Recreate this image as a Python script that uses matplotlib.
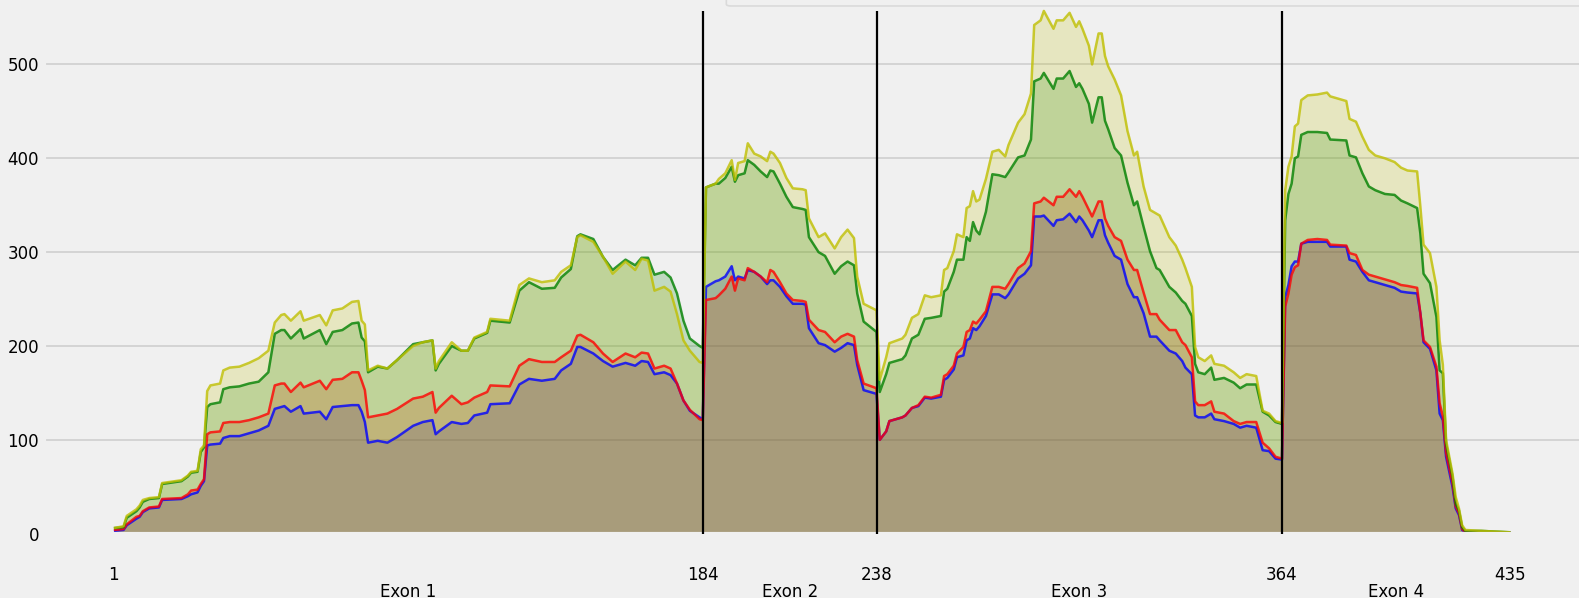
import matplotlib
matplotlib.use('Agg')
import matplotlib.pyplot as plt
from matplotlib.patches import FancyBboxPatch

# position, then one value list per sample
positions = [1, 4, 5, 8, 9, 10, 12, 15, 16, 22, 24, 25, 27, 28, 29, 30, 31, 34, 35, 37,
             40, 43, 46, 49, 51, 53, 54, 56, 59, 60, 65, 67, 69, 72, 75, 77, 78, 79, 80, 83,
             86, 89, 94, 97, 100, 101, 102, 106, 109, 111, 113, 117, 118, 124, 127, 130, 134, 138, 140, 143,
             145, 146, 150, 153, 156, 160, 163, 165, 167, 169, 172, 174, 176, 178, 180, 183, 184,
             185, 188, 189, 191, 193, 194, 195, 197, 198, 200, 202, 204, 205, 206, 208, 210, 212, 215,
             216, 217, 220, 222, 225, 227, 229, 231, 232, 234, 238,
             239, 241, 242, 246, 247, 249, 251, 253, 255, 258, 259, 260, 262, 263, 265, 266, 267, 268, 269,
             270, 272, 274, 276, 278, 279, 282, 284, 286, 287, 289, 290, 293, 294, 296, 298, 300, 301, 302,
             304, 305, 307, 308, 309, 310, 312, 314, 316, 318, 319, 321, 323, 325, 326, 329, 331, 333, 334,
             336, 337, 338, 340, 342, 343, 346, 349, 351, 353, 356, 358, 360, 362, 364,
             365, 366, 367, 368, 369, 370, 372, 375, 378, 379, 384, 385, 387, 389, 391, 393, 396, 399, 401,
             403, 406, 407, 408, 410, 412, 413, 414, 415, 417, 418, 419, 420, 421, 426, 435]

sample_y = [6, 8, 19, 26, 30, 36, 38, 39, 54, 57, 62, 66, 67, 90, 94, 152, 158, 160, 174, 177,
            178, 182, 187, 195, 225, 233, 234, 227, 237, 227, 233, 222, 238, 240, 247, 248, 227, 223, 174, 179,
            176, 185, 200, 204, 206, 176, 184, 204, 195, 195, 209, 215, 229, 227, 265, 272, 268, 270, 279, 286,
            316, 318, 311, 295, 277, 290, 281, 293, 291, 259, 263, 258, 234, 206, 195, 183, 182,
            369, 373, 378, 384, 398, 377, 395, 397, 416, 405, 402, 397, 407, 405, 395, 379, 368, 367,
            366, 336, 316, 320, 304, 316, 324, 315, 274, 245, 238,
            164, 188, 203, 208, 212, 230, 234, 254, 252, 254, 281, 283, 301, 319, 316, 347, 349, 365, 354,
            356, 378, 407, 409, 402, 414, 438, 447, 469, 542, 547, 557, 538, 547, 547, 555, 540, 546, 538,
            520, 500, 533, 533, 509, 498, 484, 467, 429, 403, 407, 370, 345, 341, 339, 316, 307, 292, 283,
            263, 199, 188, 184, 190, 181, 179, 172, 166, 170, 168, 131, 128, 120, 118,
            366, 391, 402, 434, 437, 462, 467, 468, 470, 466, 461, 442, 439, 423, 409, 403, 400, 396, 390,
            387, 386, 349, 308, 299, 263, 206, 180, 100, 64, 39, 27, 9, 4, 3, 1.5]

sample_g = [6, 7, 17, 24, 28, 34, 37, 38, 53, 56, 61, 65, 66, 87, 92, 135, 138, 140, 154, 156,
            157, 160, 162, 172, 213, 217, 217, 208, 218, 208, 217, 202, 215, 217, 224, 225, 209, 205, 172, 178,
            176, 185, 202, 204, 206, 174, 181, 200, 195, 195, 208, 214, 227, 225, 259, 268, 261, 262, 273, 282,
            317, 319, 314, 295, 281, 292, 286, 294, 294, 276, 279, 273, 256, 227, 208, 200, 198,
            369, 373, 373, 379, 391, 375, 382, 384, 398, 393, 386, 380, 387, 386, 373, 359, 348, 346,
            345, 316, 300, 296, 277, 285, 290, 286, 256, 226, 215,
            151, 170, 182, 186, 190, 208, 212, 229, 230, 232, 258, 261, 279, 292, 292, 316, 312, 332, 323,
            319, 343, 383, 382, 380, 385, 401, 403, 420, 482, 485, 491, 474, 485, 485, 493, 476, 480, 474,
            458, 438, 465, 465, 440, 431, 411, 403, 374, 350, 354, 327, 301, 283, 281, 263, 257, 248, 245,
            232, 181, 172, 170, 177, 164, 166, 161, 155, 159, 159, 130, 126, 119, 117,
            334, 362, 373, 400, 402, 425, 428, 428, 427, 420, 419, 403, 401, 384, 370, 366, 362, 361, 355,
            352, 347, 320, 277, 267, 231, 174, 171, 96, 61, 32, 25, 7, 3, 3, 1.5]

sample_r = [4, 5, 10, 18, 19, 24, 28, 29, 37, 38, 42, 46, 47, 53, 58, 106, 108, 109, 118, 119,
            119, 121, 124, 128, 158, 160, 160, 151, 161, 156, 163, 154, 164, 165, 172, 172, 163, 153, 124, 126,
            128, 133, 144, 146, 151, 129, 134, 147, 138, 140, 145, 151, 158, 157, 179, 186, 183, 183, 188, 195,
            211, 212, 204, 192, 183, 192, 188, 193, 192, 176, 179, 176, 160, 142, 132, 122, 121,
            249, 251, 254, 261, 274, 259, 272, 270, 283, 279, 274, 268, 281, 279, 268, 256, 249, 248,
            247, 228, 217, 215, 204, 210, 213, 210, 185, 160, 155,
            100, 109, 120, 124, 126, 134, 137, 146, 145, 148, 168, 170, 179, 192, 199, 215, 217, 226, 224,
            228, 237, 263, 263, 261, 266, 283, 288, 301, 352, 354, 358, 350, 359, 359, 367, 359, 365, 359,
            345, 338, 354, 354, 336, 328, 316, 312, 292, 281, 281, 257, 234, 234, 228, 217, 217, 204, 201,
            188, 141, 137, 137, 141, 130, 128, 120, 117, 119, 119, 97, 91, 82, 80,
            242, 256, 276, 284, 286, 309, 313, 314, 313, 308, 307, 299, 297, 281, 276, 274, 271, 268, 265,
            264, 262, 235, 206, 199, 178, 139, 125, 86, 54, 29, 22, 5, 2, 2, 1]

sample_b = [3, 4, 9, 16, 18, 23, 27, 28, 36, 37, 40, 42, 44, 51, 56, 94, 95, 96, 102, 104,
            104, 107, 110, 115, 133, 135, 136, 130, 136, 128, 130, 122, 135, 136, 137, 137, 130, 119, 97, 99,
            97, 103, 115, 119, 121, 106, 109, 119, 117, 118, 126, 129, 138, 139, 159, 165, 163, 165, 174, 181,
            199, 199, 192, 184, 178, 182, 179, 184, 183, 170, 172, 169, 160, 142, 131, 124, 122,
            263, 269, 270, 274, 285, 270, 274, 272, 281, 279, 274, 266, 270, 270, 263, 253, 245, 245,
            244, 219, 203, 201, 194, 198, 203, 201, 180, 153, 149,
            100, 109, 120, 124, 126, 134, 136, 145, 144, 146, 164, 166, 175, 188, 190, 206, 208, 219, 217,
            221, 232, 255, 255, 251, 255, 272, 277, 286, 338, 338, 339, 328, 334, 335, 341, 332, 338, 334,
            323, 316, 334, 334, 318, 310, 296, 292, 266, 252, 252, 235, 210, 210, 206, 195, 192, 184, 177,
            170, 126, 124, 124, 128, 122, 120, 117, 113, 115, 113, 89, 88, 80, 79,
            252, 265, 285, 290, 290, 309, 311, 311, 311, 306, 306, 292, 290, 279, 270, 268, 265, 262, 258,
            257, 256, 235, 204, 197, 174, 128, 121, 82, 50, 27, 20, 4, 2, 2, 1]

exon_bounds = [1, 184, 238, 364, 435]
exon_names = ['Exon 1', 'Exon 2', 'Exon 3', 'Exon 4']

plt.style.use('fivethirtyeight')

fig = plt.figure(figsize=(15.79, 5.98), dpi=100)
ax = fig.add_axes([0.0279, 0.1075, 0.9729, 0.8946])

# draw order matters for the colour mix: blue, red, green, yellow
series = [(sample_b, 'b'), (sample_r, 'r'), (sample_g, 'g'), (sample_y, 'y')]
for vals, c in series:
    ax.fill_between(positions, 0, vals, color=c, alpha=0.2, lw=0)
for vals, c in series:
    ax.plot(positions, vals, color=c, alpha=0.8, lw=1.8)

ax.vlines(exon_bounds[1:-1], 0, max(sample_y), color='black', lw=1.6, zorder=5)

span = positions[-1] - positions[0]
ax.set_xlim(positions[0] - 0.05 * span, positions[-1] + 0.05 * span)
ax.set_ylim(0, 570)

ax.set_yticks([0, 100, 200, 300, 400, 500])
ax.set_xticks(exon_bounds)
ax.set_xticklabels([str(b) for b in exon_bounds])
mids = [(a + b) / 2 for a, b in zip(exon_bounds[:-1], exon_bounds[1:])]
ax.set_xticks(mids, minor=True)
ax.set_xticklabels(exon_names, minor=True)

ax.grid(False, axis='x')
ax.grid(True, axis='y', color='#cfcfcf', lw=1.2)
ax.tick_params(axis='x', which='major', pad=23, length=0, labelsize=12)
ax.tick_params(axis='x', which='minor', pad=35.5, length=0, labelsize=12)
ax.tick_params(axis='y', length=0, labelsize=12, pad=3.5)

# the legend box sits above the figure; only its lower edge shows
box = FancyBboxPatch((0.463, 0.993), 0.6, 0.1, boxstyle='round,pad=0.003',
                     transform=fig.transFigure, facecolor='#f0f0f0',
                     edgecolor='#dadada', lw=1.2, clip_on=False)
fig.patches.append(box)

fig.savefig('out.png', dpi=100, facecolor='#f0f0f0')
